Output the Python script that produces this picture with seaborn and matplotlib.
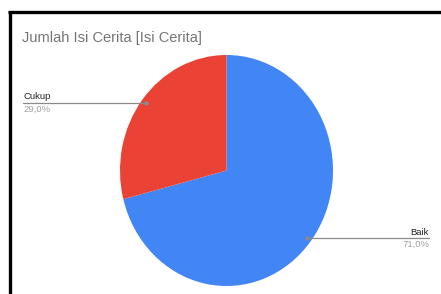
import numpy as np
import matplotlib
matplotlib.use("Agg")
import matplotlib.pyplot as plt
import seaborn as sns
from matplotlib.lines import Line2D

sns.set_theme(style="white")
plt.rcParams['font.family'] = ['Liberation Sans', 'DejaVu Sans']

title = "Jumlah Isi Cerita [Isi Cerita]"
categories = ["Baik", "Cukup"]
values = [71.0, 29.0]
pct_labels = ["71,0%", "29,0%"]
colors = ["#4285F4", "#EA4335"]

W, H = 441, 294
fig = plt.figure(figsize=(W / 100, H / 100), dpi=100)
fig.patch.set_facecolor("white")

def fx(px):
    return px / W

def fy(py):
    return 1 - py / H

# pie axes (screenshot is slightly stretched vertically)
left, right, top, bottom = 120, 333, 55, 286
ax = fig.add_axes([fx(left), fy(bottom), fx(right - left), (bottom - top) / H])
wedges, _ = ax.pie(values, colors=colors, startangle=90, counterclock=False,
                   radius=1, wedgeprops=dict(linewidth=0))
ax.set_xlim(-1, 1)
ax.set_ylim(-1, 1)
ax.set_aspect("auto")
ax.axis("off")

# outer black frame (left & top)
fig.add_artist(Line2D([fx(9.5), fx(9.5)], [fy(11), 0], color="black", lw=2.4,
                      transform=fig.transFigure, solid_capstyle="butt"))
fig.add_artist(Line2D([fx(8.3), 1], [fy(11.5), fy(11.5)], color="black", lw=2.4,
                      transform=fig.transFigure, solid_capstyle="butt"))

fig.text(fx(22.5), fy(38), title, fontsize=10.5, color="#757575", va="center", ha="left")

fig.canvas.draw()
label_x = {"Baik": 429, "Cukup": 23}
for w, cat, pct in zip(wedges, categories, pct_labels):
    mid = np.deg2rad((w.theta1 + w.theta2) / 2)
    dx, dy = 0.955 * np.cos(mid), 0.955 * np.sin(mid)
    disp = ax.transData.transform((dx, dy))
    px, py = disp[0], disp[1]
    fxp, fyp = px / (W), py / (H)
    tx = fx(label_x[cat])
    fig.add_artist(Line2D([fxp, tx], [fyp, fyp], color="#8a8a8a", lw=0.9,
                          transform=fig.transFigure))
    fig.add_artist(Line2D([fxp], [fyp], marker="o", markersize=2.2, color="#8a8a8a",
                          transform=fig.transFigure))
    ha = "right" if cat == "Baik" else "left"
    fig.text(tx, fyp + 1.5 / H, cat, fontsize=6.8, color="#222222", ha=ha, va="bottom")
    fig.text(tx, fyp - 1.5 / H, pct, fontsize=6.8, color="#a0a0a0", ha=ha, va="top")

fig.savefig("out.png", dpi=100, facecolor="white")
